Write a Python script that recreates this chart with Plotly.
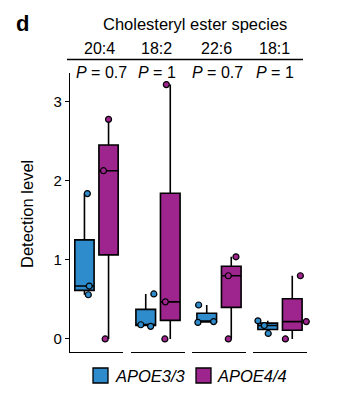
import plotly.graph_objects as go

# Cholesteryl ester species, one panel each
species = ["20:4", "18:2", "22:6", "18:1"]
p_values = ["0.7", "1", "0.7", "1"]
genotypes = ["APOE3/3", "APOE4/4"]

# Detection level per sample (n = 3 per genotype)
apoe33 = [
    [1.84, 0.67, 0.56],
    [0.57, 0.18, 0.16],
    [0.43, 0.21, 0.22],
    [0.23, 0.17, 0.07],
]
apoe44 = [
    [2.78, 2.13, 0.00],
    [3.22, 0.47, 0.00],
    [1.04, 0.80, 0.00],
    [0.80, 0.22, 0.00],
]

y_ticks = [0, 1, 2, 3]

# Horizontal jitter of the sample dots (x units within a panel)
jitter33 = [[0.12, 0.20, 0.16], [0.33, -0.20, 0.20], [-0.33, -0.36, 0.28], [-0.40, -0.14, 0.02]]
jitter44 = [[0.00, -0.21, -0.14], [-0.16, -0.20, -0.22], [0.19, -0.12, -0.12], [0.33, 0.57, -0.28]]

COLORS = {"APOE3/3": "#2E8BCC", "APOE4/4": "#9E248E"}
W, H = 337, 399
FONT = "Liberation Sans, Arial, sans-serif"

# Panel placement in pixels
panel_px = [(70, 123), (131, 185), (192, 246), (253, 307)]
plot_top, plot_bottom = 73, 352


def px_x(x):
    return x / W


def px_y(y):
    return 1 - y / H


def label(text, x, y, size=16, **kw):
    fig.add_annotation(text=text, x=px_x(x), y=px_y(y), xref="paper", yref="paper",
                       xanchor=kw.pop("xanchor", "center"), yanchor="middle",
                       showarrow=False, font=dict(size=size, color="black", family=FONT), **kw)


fig = go.Figure()

for i, sp in enumerate(species):
    xa = "x" if i == 0 else f"x{i + 1}"
    ya = "y" if i == 0 else f"y{i + 1}"
    for gi, (g, vals, jit) in enumerate(((genotypes[0], apoe33, jitter33),
                                        (genotypes[1], apoe44, jitter44))):
        pos = gi + 1
        fig.add_trace(go.Box(
            y=vals[i], x=[pos] * len(vals[i]), name=g, showlegend=False,
            fillcolor=COLORS[g], line=dict(color="black", width=1.6),
            boxpoints=False, whiskerwidth=0, width=0.8,
            quartilemethod="inclusive", xaxis=xa, yaxis=ya,
            hoverinfo="skip",
        ))
        fig.add_trace(go.Scatter(
            x=[pos + j for j in jit[i]], y=vals[i], mode="markers", cliponaxis=False,
            marker=dict(size=6, color=COLORS[g], line=dict(color="black", width=1.2)),
            showlegend=False, xaxis=xa, yaxis=ya, hoverinfo="skip",
        ))

    x0, x1 = panel_px[i]
    axis_x = dict(domain=[px_x(x0), px_x(x1)], range=[0.4, 2.6], showticklabels=False,
                  ticks="", showgrid=False, zeroline=False, showline=True,
                  linecolor="black", linewidth=1.2, fixedrange=True)
    axis_y = dict(domain=[px_y(plot_bottom), px_y(plot_top)], range=[-0.165, 3.367],
                  showgrid=False, zeroline=False, fixedrange=True)
    if i == 0:
        axis_y.update(showline=True, linecolor="black", linewidth=1.2, ticks="outside",
                      ticklen=4, tickwidth=1.2, tickcolor="black", tickvals=y_ticks,
                      tickfont=dict(size=15, color="black", family=FONT))
        axis_x.update(anchor="y")
    else:
        axis_y.update(showline=False, showticklabels=False, ticks="", anchor=f"x{i + 1}")
        axis_x.update(anchor=f"y{i + 1}")
    fig.layout[f"xaxis{'' if i == 0 else i + 1}"] = axis_x
    fig.layout[f"yaxis{'' if i == 0 else i + 1}"] = axis_y

# Strip text above the panels
strip_x = [100, 156, 216, 274]
p_x = [101, 157, 217, 275]
for sp, pv, sx, ppx in zip(species, p_values, strip_x, p_x):
    label(sp, sx, 49, size=16)
    label(f"<i>P</i> = {pv}", ppx, 72, size=16)

fig.add_shape(type="line", xref="paper", yref="paper", x0=px_x(67), x1=px_x(303),
              y0=px_y(59.5), y1=px_y(59.5), line=dict(color="black", width=1.3))

label("Cholesteryl ester species", 195, 24, size=16.5)
label("<b>d</b>", 22, 23, size=22)
label("Detection level", 27, 214, size=16.5, textangle=-90)

# Legend: filled keys with italic genotype names
legend_keys = [(93, 113), (196, 215)]
for g, (kx, tx) in zip(genotypes, legend_keys):
    fig.add_shape(type="rect", xref="paper", yref="paper",
                  x0=px_x(kx), x1=px_x(kx + 15), y0=px_y(383), y1=px_y(368),
                  fillcolor=COLORS[g], line=dict(color="black", width=1.3))
    label(f"<i>{g}</i>", tx, 376, size=16.5, xanchor="left")

fig.update_layout(
    width=W, height=H, margin=dict(l=0, r=0, t=0, b=0),
    plot_bgcolor="white", paper_bgcolor="white",
    boxgap=0, boxgroupgap=0, showlegend=False,
)

fig.write_html("out.html")
